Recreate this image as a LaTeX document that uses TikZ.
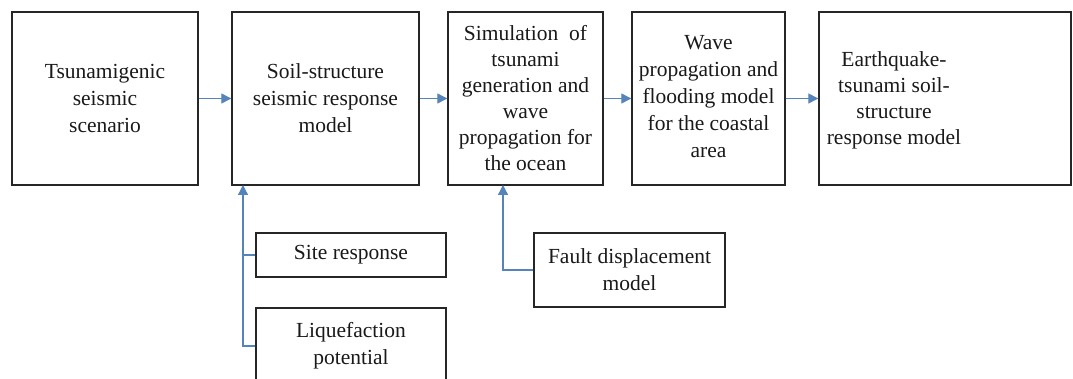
\documentclass[tikz,border=0pt]{standalone}
\usepackage{fontspec}
\setmainfont{Liberation Serif}
\usetikzlibrary{arrows.meta}
\definecolor{flowblue}{RGB}{84,132,186}
\tikzset{
  box/.style={draw=black!85, line width=1.4pt, fill=white, inner sep=0pt, align=center,
    font=\fontsize{21.5}{27}\selectfont, text=black!90},
  plaintext/.style={inner sep=0pt, align=center, font=\fontsize{21.5}{26}\selectfont, text=black!90},
  flow/.style={draw=flowblue, line width=1.3pt},
  flowarr/.style={flow, -{Triangle[length=10pt,width=10pt]}}
}
\begin{document}
\begin{tikzpicture}[x=1pt,y=-1pt]
\useasboundingbox (0,0) rectangle (1073,379);
\clip (0,0) rectangle (1073,379);
\fill[white] (0,0) rectangle (1073,379);
% top row
\node[box, minimum width=186pt, minimum height=173pt] (b1) at (105,98.5) {Tsunamigenic\\seismic\\scenario};
\node[box, minimum width=187pt, minimum height=173pt] (b2) at (325.5,98.5) {Soil-structure\\seismic response\\model};
\node[box, minimum width=155pt, minimum height=173pt, font=\fontsize{21.5}{26}\selectfont] (b3) at (525.5,98.5) {Simulation\ \ of\\tsunami\\generation and\\wave\\propagation for\\the ocean};
\node[box, minimum width=153pt, minimum height=173pt] (b4) at (708.5,98.5) {\raisebox{-5pt}{\begin{tabular}{@{}c@{}}Wave\\propagation and\\flooding model\\for the coastal\\area\end{tabular}}};
\node[box, minimum width=252pt, minimum height=173pt] (b5) at (945,98.5) {};
\node[plaintext] (b5text) at (894,100) {Earthquake-\\tsunami soil-\\structure\\response model};
% bottom boxes
\node[box, minimum width=190pt, minimum height=44pt] (site) at (351,255) {Site response};
\node[box, minimum width=190pt, minimum height=76pt] (liq) at (351,346) {Liquefaction\\potential};
\node[box, minimum width=191pt, minimum height=74pt] (fault) at (629.5,270) {Fault displacement\\model};
% junction points on box bottoms
\coordinate (t2) at (243,185);
\coordinate (t3) at (503,185);
% horizontal flow
\draw[flowarr] (b1) -- (b2);
\draw[flowarr] (b2) -- (b3);
\draw[flowarr] (b3) -- (b4);
\draw[flowarr] (b4.east) -- (b5.west);
% vertical inputs
\draw[flowarr] (liq.west) -| (t2);
\draw[flow] (site.west) -- (site.west -| t2);
\draw[flowarr] (fault.west) -| (t3);
\end{tikzpicture}
\end{document}
